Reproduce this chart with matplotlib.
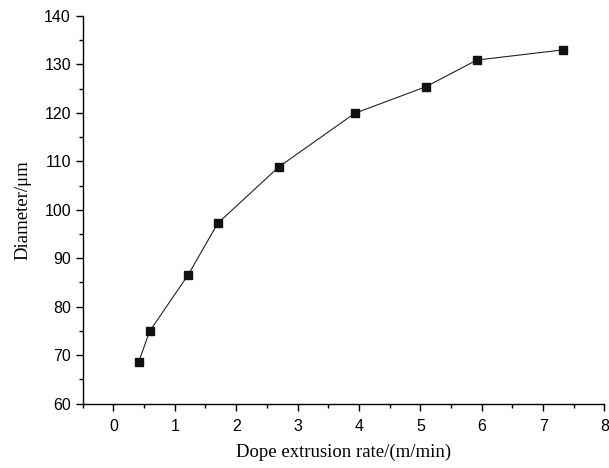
import matplotlib
matplotlib.use('Agg')
import matplotlib.pyplot as plt
from matplotlib.ticker import MultipleLocator

rate = [0.41, 0.59, 1.22, 1.70, 2.69, 3.93, 5.09, 5.92, 7.32]  # m/min
diameter = [68.5, 74.9, 86.6, 97.2, 108.8, 119.9, 125.4, 130.9, 133.0]  # um

fig = plt.figure(figsize=(6.09, 4.68), dpi=100)
ax = fig.add_axes([0.1358, 0.1378, 0.8568, 0.828])

ax.plot(rate, diameter, color='#222222', lw=0.8, marker='s', ms=6,
        mfc='#111111', mec='#111111')

ax.set_xlim(-0.5, 8)
ax.set_ylim(60, 140)
ax.xaxis.set_major_locator(MultipleLocator(1))
ax.xaxis.set_minor_locator(MultipleLocator(0.5))
ax.yaxis.set_major_locator(MultipleLocator(10))
ax.yaxis.set_minor_locator(MultipleLocator(5))

for s in ['top', 'right']:
    ax.spines[s].set_visible(False)
for s in ['left', 'bottom']:
    ax.spines[s].set_linewidth(1.0)

ax.tick_params(which='major', direction='out', length=5, width=1.0,
               labelsize=11.5)
ax.tick_params(axis='x', which='major', pad=6)
ax.tick_params(which='minor', direction='out', length=3, width=1.0)
for lab in ax.get_xticklabels() + ax.get_yticklabels():
    lab.set_family('Liberation Sans')

ax.set_xlabel('Dope extrusion rate/(m/min)', family='Liberation Serif',
              fontsize=13.5, labelpad=7)
ax.set_ylabel('Diameter/μm', family='Liberation Serif', fontsize=13.5,
              labelpad=9)

fig.savefig('out.png', dpi=100)
